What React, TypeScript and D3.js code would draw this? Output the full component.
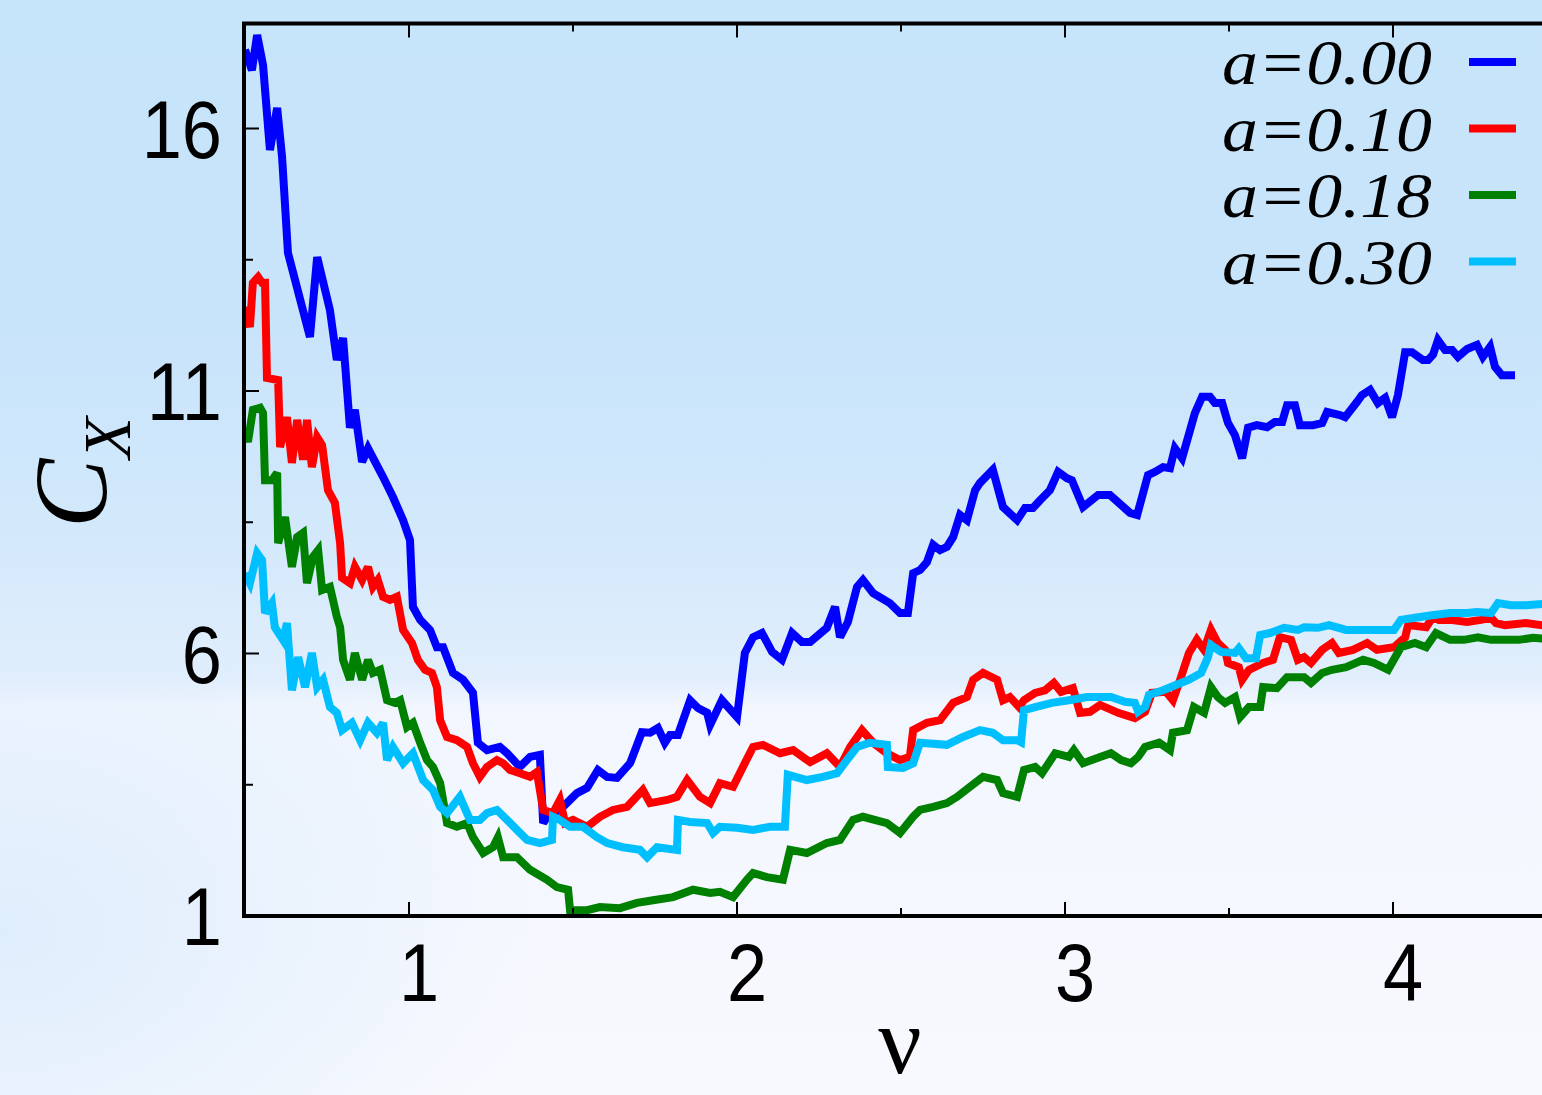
import { useEffect, useRef } from "react";
import * as d3 from "d3";

// ν, C_X pairs, one list per curve
const A000: [number, number][] = [
  [0.5, 17.5], [0.521, 17.11], [0.537, 17.78], [0.555, 17.21], [0.576, 15.59], [0.598, 16.39],
  [0.613, 15.46], [0.631, 13.63], [0.698, 12.03], [0.72, 13.55], [0.759, 12.54], [0.78, 11.59],
  [0.799, 12.01], [0.82, 10.3], [0.835, 10.64], [0.857, 9.65], [0.875, 9.91], [0.921, 9.36],
  [0.951, 8.98], [0.982, 8.54], [1.003, 8.16], [1.012, 6.89], [1.034, 6.64], [1.064, 6.45],
  [1.085, 6.12], [1.104, 6.12], [1.134, 5.63], [1.165, 5.5], [1.195, 5.25], [1.21, 4.3],
  [1.238, 4.16], [1.277, 4.22], [1.299, 4.1], [1.338, 3.84], [1.369, 4.03], [1.399, 4.07],
  [1.409, 2.77], [1.43, 2.96], [1.46, 3.02], [1.512, 3.34], [1.543, 3.44], [1.576, 3.78],
  [1.604, 3.65], [1.634, 3.63], [1.674, 3.91], [1.71, 4.5], [1.735, 4.49], [1.759, 4.58],
  [1.78, 4.3], [1.796, 4.45], [1.82, 4.45], [1.857, 5.11], [1.881, 4.96], [1.909, 4.87],
  [1.918, 4.64], [1.954, 5.11], [2.0, 4.79], [2.024, 6.01], [2.049, 6.31], [2.076, 6.39],
  [2.107, 6.03], [2.137, 5.88], [2.168, 6.39], [2.198, 6.22], [2.223, 6.22], [2.274, 6.49],
  [2.299, 6.89], [2.314, 6.31], [2.338, 6.6], [2.366, 7.27], [2.384, 7.4], [2.415, 7.15],
  [2.466, 6.96], [2.497, 6.77], [2.521, 6.77], [2.537, 7.53], [2.558, 7.59], [2.579, 7.74],
  [2.598, 8.07], [2.619, 7.97], [2.64, 8.03], [2.659, 8.22], [2.68, 8.64], [2.701, 8.54],
  [2.726, 9.11], [2.741, 9.25], [2.78, 9.5], [2.811, 8.79], [2.854, 8.54], [2.878, 8.77],
  [2.902, 8.77], [2.924, 8.92], [2.954, 9.11], [2.979, 9.46], [3.006, 9.34], [3.021, 9.3],
  [3.055, 8.79], [3.101, 9.02], [3.137, 9.02], [3.198, 8.68], [3.22, 8.64], [3.253, 9.4],
  [3.274, 9.46], [3.299, 9.55], [3.32, 9.53], [3.335, 9.91], [3.357, 9.72], [3.396, 10.58],
  [3.418, 10.89], [3.442, 10.89], [3.457, 10.77], [3.479, 10.77], [3.497, 10.39], [3.518, 10.16],
  [3.54, 9.72], [3.558, 10.3], [3.585, 10.35], [3.616, 10.31], [3.64, 10.41], [3.662, 10.41],
  [3.677, 10.73], [3.701, 10.73], [3.716, 10.35], [3.756, 10.35], [3.784, 10.39], [3.799, 10.6],
  [3.838, 10.54], [3.854, 10.5], [3.89, 10.79], [3.905, 10.92], [3.93, 11.02], [3.954, 10.77],
  [3.976, 10.87], [3.997, 10.5], [4.015, 10.92], [4.037, 11.74], [4.058, 11.74], [4.091, 11.59],
  [4.107, 11.59], [4.122, 11.69], [4.137, 11.97], [4.159, 11.78], [4.18, 11.78], [4.198, 11.65],
  [4.226, 11.8], [4.256, 11.88], [4.274, 11.65], [4.296, 11.84], [4.311, 11.46], [4.332, 11.3],
  [4.372, 11.3],
];

const A010: [number, number][] = [
  [0.5, 12.6], [0.515, 12.22], [0.524, 13.06], [0.54, 13.17], [0.552, 13.06], [0.561, 13.06],
  [0.567, 11.25], [0.601, 11.21], [0.607, 9.93], [0.628, 10.5], [0.643, 9.63], [0.659, 10.45],
  [0.677, 9.69], [0.689, 10.45], [0.704, 9.55], [0.72, 10.12], [0.735, 9.97], [0.753, 9.11],
  [0.774, 8.87], [0.79, 8.1], [0.796, 7.44], [0.82, 7.34], [0.835, 7.65], [0.857, 7.4],
  [0.875, 7.65], [0.89, 7.27], [0.905, 7.4], [0.921, 7.08], [0.942, 7.02], [0.963, 7.08],
  [0.982, 6.45], [1.009, 6.2], [1.027, 5.88], [1.049, 5.69], [1.07, 5.63], [1.085, 5.36],
  [1.095, 4.73], [1.116, 4.41], [1.146, 4.35], [1.177, 4.22], [1.195, 3.91], [1.216, 3.65],
  [1.238, 3.84], [1.268, 3.97], [1.287, 3.91], [1.308, 3.78], [1.338, 3.72], [1.369, 3.65],
  [1.39, 3.74], [1.409, 3.02], [1.439, 2.96], [1.46, 3.21], [1.476, 2.77], [1.5, 2.83],
  [1.543, 2.7], [1.582, 2.89], [1.622, 3.02], [1.665, 3.08], [1.713, 3.4], [1.735, 3.15],
  [1.787, 3.21], [1.817, 3.27], [1.848, 3.59], [1.887, 3.27], [1.918, 3.15], [1.948, 3.53],
  [1.988, 3.46], [2.018, 3.84], [2.049, 4.22], [2.079, 4.26], [2.131, 4.1], [2.171, 4.16],
  [2.223, 3.93], [2.274, 4.1], [2.314, 3.84], [2.345, 4.22], [2.381, 4.54], [2.415, 4.3],
  [2.457, 4.1], [2.497, 3.97], [2.527, 4.03], [2.537, 4.54], [2.579, 4.68], [2.619, 4.73],
  [2.659, 5.06], [2.701, 5.17], [2.72, 5.5], [2.75, 5.63], [2.793, 5.5], [2.811, 5.11],
  [2.832, 5.17], [2.86, 4.98], [2.875, 5.11], [2.909, 5.25], [2.939, 5.3], [2.966, 5.44],
  [2.988, 5.27], [3.024, 5.34], [3.046, 4.87], [3.076, 4.89], [3.107, 5.02], [3.162, 4.87],
  [3.213, 4.77], [3.244, 4.89], [3.265, 5.25], [3.308, 5.27], [3.329, 5.11], [3.351, 5.5],
  [3.378, 6.01], [3.402, 6.26], [3.424, 6.07], [3.445, 6.45], [3.466, 6.2], [3.488, 6.07],
  [3.497, 5.82], [3.53, 5.74], [3.54, 5.5], [3.561, 5.69], [3.604, 5.82], [3.634, 5.88],
  [3.655, 6.31], [3.689, 6.26], [3.71, 5.88], [3.729, 5.93], [3.75, 5.82], [3.784, 6.07],
  [3.814, 6.2], [3.835, 6.01], [3.878, 6.07], [3.921, 6.2], [3.951, 6.07], [4.003, 6.12],
  [4.037, 6.31], [4.046, 6.54], [4.101, 6.5], [4.122, 6.7], [4.14, 6.64], [4.174, 6.64],
  [4.226, 6.6], [4.268, 6.64], [4.299, 6.68], [4.314, 6.58], [4.341, 6.54], [4.405, 6.58],
  [4.5, 6.5],
];

const A018: [number, number][] = [
  [0.5, 10.22], [0.509, 10.03], [0.524, 10.64], [0.546, 10.68], [0.555, 10.58], [0.561, 9.3],
  [0.582, 9.3], [0.598, 9.44], [0.601, 8.1], [0.622, 8.6], [0.643, 7.65], [0.659, 8.22],
  [0.677, 8.3], [0.689, 7.34], [0.707, 7.84], [0.723, 7.97], [0.735, 7.21], [0.759, 7.27],
  [0.78, 6.7], [0.79, 6.5], [0.799, 5.88], [0.82, 5.5], [0.835, 6.01], [0.857, 5.5],
  [0.875, 5.88], [0.89, 5.63], [0.912, 5.69], [0.933, 5.11], [0.957, 5.06], [0.973, 5.11],
  [0.994, 4.6], [1.012, 4.68], [1.034, 4.3], [1.055, 3.97], [1.073, 3.84], [1.095, 3.53],
  [1.116, 2.77], [1.146, 2.7], [1.177, 2.77], [1.195, 2.5], [1.226, 2.2], [1.256, 2.31],
  [1.271, 2.5], [1.287, 2.12], [1.329, 2.12], [1.369, 1.88], [1.421, 1.69], [1.451, 1.55],
  [1.485, 1.5], [1.491, 1.11], [1.543, 1.11], [1.582, 1.17], [1.643, 1.15], [1.695, 1.25],
  [1.744, 1.3], [1.805, 1.36], [1.866, 1.5], [1.918, 1.44], [1.948, 1.46], [1.988, 1.36],
  [2.03, 1.69], [2.049, 1.82], [2.091, 1.74], [2.14, 1.69], [2.162, 2.26], [2.213, 2.2],
  [2.274, 2.39], [2.314, 2.45], [2.354, 2.83], [2.384, 2.89], [2.457, 2.77], [2.497, 2.58],
  [2.537, 2.89], [2.558, 3.02], [2.598, 3.08], [2.64, 3.15], [2.671, 3.27], [2.71, 3.46],
  [2.75, 3.65], [2.793, 3.59], [2.811, 3.34], [2.854, 3.27], [2.875, 3.78], [2.909, 3.84],
  [2.93, 3.72], [2.97, 4.1], [3.012, 4.03], [3.027, 4.16], [3.055, 3.91], [3.107, 4.03],
  [3.14, 4.1], [3.171, 3.97], [3.201, 3.91], [3.223, 4.03], [3.244, 4.22], [3.287, 4.3],
  [3.32, 4.16], [3.329, 4.49], [3.372, 4.54], [3.393, 4.98], [3.424, 4.87], [3.445, 5.36],
  [3.466, 5.17], [3.488, 5.06], [3.518, 5.17], [3.534, 4.79], [3.561, 4.98], [3.595, 4.98],
  [3.604, 5.36], [3.646, 5.34], [3.677, 5.55], [3.729, 5.55], [3.75, 5.44], [3.784, 5.63],
  [3.814, 5.69], [3.857, 5.74], [3.909, 5.88], [3.942, 5.82], [3.985, 5.69], [4.024, 6.12],
  [4.067, 6.2], [4.101, 6.12], [4.131, 6.39], [4.174, 6.26], [4.216, 6.26], [4.259, 6.31],
  [4.299, 6.26], [4.384, 6.26], [4.427, 6.3], [4.5, 6.26],
];

const A030: [number, number][] = [
  [0.5, 7.53], [0.515, 7.34], [0.537, 7.91], [0.552, 7.78], [0.561, 6.77], [0.582, 6.96],
  [0.591, 6.5], [0.616, 6.26], [0.628, 6.58], [0.643, 5.3], [0.662, 5.93], [0.683, 5.36],
  [0.704, 6.01], [0.72, 5.36], [0.738, 5.5], [0.759, 4.98], [0.78, 4.87], [0.796, 4.54],
  [0.826, 4.68], [0.851, 4.35], [0.875, 4.68], [0.902, 4.49], [0.921, 4.68], [0.933, 3.97],
  [0.951, 4.22], [0.982, 3.91], [1.012, 4.1], [1.043, 3.59], [1.073, 3.4], [1.095, 3.08],
  [1.116, 2.96], [1.155, 3.27], [1.186, 2.83], [1.216, 2.83], [1.238, 2.96], [1.268, 3.02],
  [1.299, 2.83], [1.329, 2.64], [1.36, 2.45], [1.399, 2.39], [1.436, 2.45], [1.439, 2.89],
  [1.46, 2.83], [1.491, 2.7], [1.53, 2.7], [1.573, 2.5], [1.604, 2.39], [1.652, 2.31],
  [1.704, 2.26], [1.726, 2.12], [1.756, 2.31], [1.817, 2.26], [1.82, 2.83], [1.857, 2.79],
  [1.909, 2.77], [1.927, 2.58], [1.948, 2.7], [2.0, 2.68], [2.049, 2.64], [2.101, 2.7],
  [2.146, 2.7], [2.155, 3.69], [2.213, 3.59], [2.262, 3.65], [2.305, 3.72], [2.335, 3.97],
  [2.366, 4.22], [2.405, 4.3], [2.457, 4.26], [2.46, 3.84], [2.506, 3.82], [2.537, 3.91],
  [2.558, 4.3], [2.64, 4.26], [2.689, 4.41], [2.741, 4.54], [2.78, 4.49], [2.811, 4.35],
  [2.854, 4.35], [2.866, 4.31], [2.875, 4.92], [2.909, 4.98], [2.96, 5.06], [3.012, 5.11],
  [3.067, 5.17], [3.14, 5.17], [3.183, 5.08], [3.213, 5.06], [3.223, 4.89], [3.244, 4.98],
  [3.256, 5.21], [3.299, 5.3], [3.338, 5.4], [3.378, 5.5], [3.415, 5.63], [3.436, 5.93],
  [3.445, 6.16], [3.476, 6.03], [3.518, 6.01], [3.53, 6.1], [3.552, 5.91], [3.582, 5.91],
  [3.595, 6.35], [3.625, 6.39], [3.668, 6.49], [3.71, 6.45], [3.729, 6.5], [3.771, 6.49],
  [3.805, 6.54], [3.857, 6.45], [3.909, 6.45], [3.951, 6.45], [4.003, 6.45], [4.024, 6.64],
  [4.067, 6.68], [4.119, 6.73], [4.174, 6.77], [4.226, 6.77], [4.256, 6.79], [4.299, 6.77],
  [4.32, 6.96], [4.36, 6.92], [4.405, 6.92], [4.5, 6.96],
];

const SERIES = [A000, A010, A018, A030];
const LABELS = ["a=0.00", "a=0.10", "a=0.18", "a=0.30"];
const COLORS = ["#0000ff", "#ff0000", "#008000", "#00bfff"];

const X_MAJOR = [1, 2, 3, 4];
const X_MINOR = [0.5, 1.5, 2.5, 3.5, 4.5];
const Y_MAJOR = [1, 6, 11, 16];
const Y_MINOR = [3.5, 8.5, 13.5];

export default function App() {
  const svgRef = useRef<SVGSVGElement | null>(null);

  useEffect(() => {
    if (!svgRef.current) return;
    const W = 1542;
    const H = 1095;
    const svg = d3.select(svgRef.current);
    svg.selectAll("*").remove();

    const x = d3.scaleLinear().domain([0.5, 4.5]).range([245, 1557]);
    const y = d3.scaleLinear().domain([1, 18]).range([916, 23.5]);
    const [x0, x1] = x.range();
    const [y0, y1] = y.range();

    // background
    const defs = svg.append("defs");
    const bg = defs
      .append("linearGradient")
      .attr("id", "bg")
      .attr("x1", 0)
      .attr("y1", 0)
      .attr("x2", 0)
      .attr("y2", 1);
    [
      [0, "#c6e4fa"],
      [0.3, "#c8e4fb"],
      [0.5, "#d4e9fb"],
      [0.62, "#e1eefc"],
      [0.645, "#f2f6fe"],
      [1, "#f8f9fe"],
    ].forEach(([o, c]) => bg.append("stop").attr("offset", o as number).attr("stop-color", c as string));

    const corner = defs
      .append("radialGradient")
      .attr("id", "corner")
      .attr("cx", 0)
      .attr("cy", 0.85)
      .attr("r", 0.35);
    corner.append("stop").attr("offset", 0).attr("stop-color", "#dcecfc").attr("stop-opacity", 0.9);
    corner.append("stop").attr("offset", 1).attr("stop-color", "#dcecfc").attr("stop-opacity", 0);

    defs
      .append("clipPath")
      .attr("id", "plotclip")
      .append("rect")
      .attr("x", x0)
      .attr("y", y1)
      .attr("width", x1 - x0)
      .attr("height", y0 - y1);

    svg.append("rect").attr("width", W).attr("height", H).attr("fill", "url(#bg)");
    svg.append("rect").attr("width", W).attr("height", H).attr("fill", "url(#corner)");

    // curves
    const line = d3
      .line<[number, number]>()
      .x((d) => x(d[0]))
      .y((d) => y(d[1]));

    const curves = svg.append("g").attr("clip-path", "url(#plotclip)");
    SERIES.forEach((s, i) => {
      curves
        .append("path")
        .attr("d", line(s))
        .attr("fill", "none")
        .attr("stroke", COLORS[i])
        .attr("stroke-width", 8)
        .attr("stroke-linejoin", "miter")
        .attr("stroke-miterlimit", 3);
    });

    // frame + ticks
    const axes = svg.append("g").attr("stroke", "#000");
    axes
      .append("rect")
      .attr("x", x0 - 1)
      .attr("y", y1)
      .attr("width", x1 - x0 + 1)
      .attr("height", y0 - y1)
      .attr("fill", "none")
      .attr("stroke-width", 4);

    const major = { len: 14, w: 2 };
    const minor = { len: 8, w: 2 };
    const xTicks = (vals: number[], t: { len: number; w: number }) => {
      vals.forEach((v) => {
        axes.append("line").attr("x1", x(v)).attr("x2", x(v)).attr("y1", y0).attr("y2", y0 - t.len).attr("stroke-width", t.w);
        axes.append("line").attr("x1", x(v)).attr("x2", x(v)).attr("y1", y1).attr("y2", y1 + t.len).attr("stroke-width", t.w);
      });
    };
    const yTicks = (vals: number[], t: { len: number; w: number }) => {
      vals.forEach((v) => {
        axes.append("line").attr("x1", x0).attr("x2", x0 + t.len).attr("y1", y(v)).attr("y2", y(v)).attr("stroke-width", t.w);
        axes.append("line").attr("x1", x1).attr("x2", x1 - t.len).attr("y1", y(v)).attr("y2", y(v)).attr("stroke-width", t.w);
      });
    };
    xTicks(X_MAJOR, major);
    xTicks(X_MINOR, minor);
    yTicks(Y_MAJOR, major);
    yTicks(Y_MINOR, minor);

    // tick labels (narrow sans)
    const lab = svg.append("g").attr("font-family", "'Liberation Sans', Arial, sans-serif").attr("font-size", 82).attr("fill", "#000");
    Y_MAJOR.forEach((v) => {
      lab
        .append("text")
        .attr("transform", `translate(222,${y(v) + 29}) scale(0.88,1)`)
        .attr("text-anchor", "end")
        .text(String(v));
    });
    X_MAJOR.forEach((v) => {
      lab
        .append("text")
        .attr("transform", `translate(${x(v) + 10},1001) scale(0.88,1)`)
        .attr("text-anchor", "middle")
        .text(String(v));
    });

    // axis titles
    svg
      .append("text")
      .attr("x", 900)
      .attr("y", 1073)
      .attr("text-anchor", "middle")
      .attr("font-family", "'Liberation Serif', serif")
      .attr("font-size", 96)
      .text("ν");

    const yt = svg
      .append("text")
      .attr("transform", "translate(106,528) rotate(-90)")
      .attr("font-family", "'Liberation Serif', serif")
      .attr("font-style", "italic");
    yt.append("tspan").attr("font-size", 104).text("C");
    yt.append("tspan").attr("font-size", 68).attr("dy", 24).text("X");

    // legend
    const leg = svg.append("g");
    LABELS.forEach((t, i) => {
      const base = 84 + i * 66.5;
      leg
        .append("text")
        .attr("x", 1432)
        .attr("y", base)
        .attr("text-anchor", "end")
        .attr("font-family", "'Liberation Serif', serif")
        .attr("font-style", "italic")
        .attr("font-size", 63)
        .attr("textLength", 210)
        .attr("lengthAdjust", "spacingAndGlyphs")
        .text(t);
      leg
        .append("line")
        .attr("x1", 1469)
        .attr("x2", 1516)
        .attr("y1", base - 22)
        .attr("y2", base - 22)
        .attr("stroke", COLORS[i])
        .attr("stroke-width", 8);
    });
  }, []);

  return (
    <div style={{ position: "absolute", left: 0, top: 0, width: 1542, height: 1095, overflow: "hidden" }}>
      <svg ref={svgRef} width={1542} height={1095} style={{ display: "block" }} />
    </div>
  );
}
